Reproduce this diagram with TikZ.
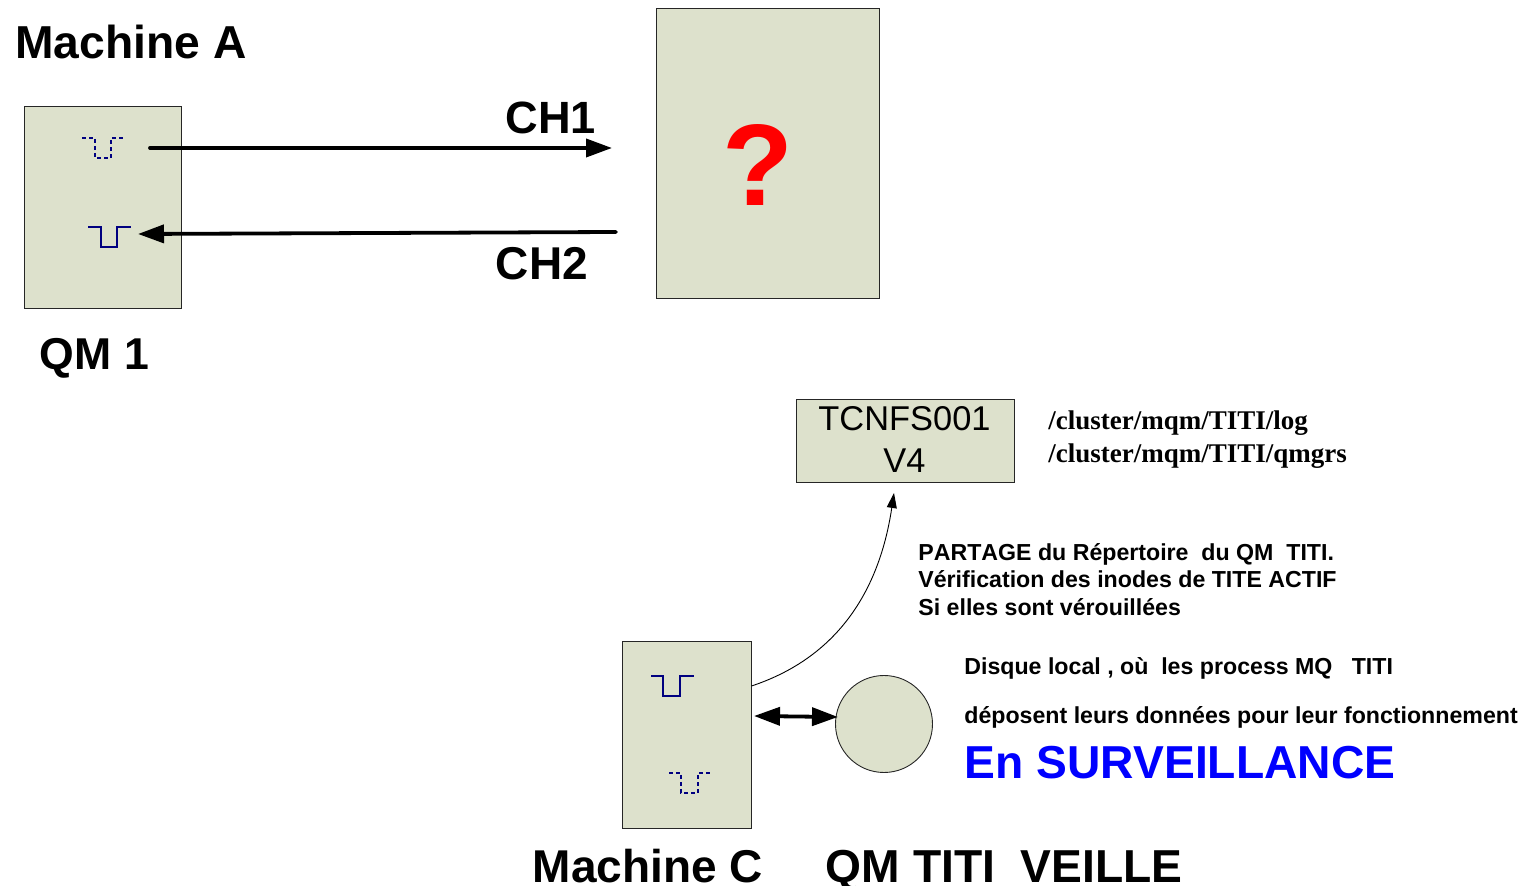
\documentclass[tikz,border=0pt]{standalone}
\usepackage{fontspec}
\setmainfont{Liberation Sans}
\newfontfamily\serifbold[BoldFont={Liberation Serif Bold}]{Liberation Serif}
\usetikzlibrary{arrows.meta}
\definecolor{boxfill}{HTML}{DDE1CC}
\definecolor{queueblue}{HTML}{000080}
\tikzset{
  x=0.5pt,y=-0.5pt,
  pane/.style={draw=black!85,line width=0.45pt,fill=boxfill},
  big/.style={font=\bfseries\fontsize{23}{26}\selectfont,inner sep=0pt,anchor=base west},
  note/.style={font=\bfseries\fontsize{11.58}{14}\selectfont,inner sep=0pt,anchor=base west},
  pathlabel/.style={font=\serifbold\bfseries\fontsize{13.5}{16}\selectfont,inner sep=0pt,anchor=base west},
  queuesolid/.style={draw=queueblue,line width=1.2pt},
  queuedash/.style={draw=queueblue,line width=1.2pt,dash pattern=on 2pt off 1.5pt},
  heavy/.style={draw=black,line width=1.9pt,line cap=round,-{Triangle[length=13pt,width=9pt]}},
  heavyboth/.style={draw=black,line width=1.9pt,{Triangle[length=13pt,width=9pt]}-{Triangle[length=13pt,width=9pt]}},
  thin curve/.style={draw=black,line width=0.45pt,-{Triangle[length=7.5pt,width=5pt]}},
}
\begin{document}
\begin{tikzpicture}
\useasboundingbox (0,0) rectangle (1523,886);
% boxes
\node[pane,minimum width=78.5pt,minimum height=101pt,inner sep=0pt,anchor=north west] (qm1) at (24,106.5) {};
\node[pane,minimum width=111.8pt,minimum height=145pt,inner sep=0pt,anchor=north west] (unknown) at (655.5,8) {};
\node[pane,minimum width=109.2pt,minimum height=41.5pt,inner sep=0pt,anchor=north west] (nfs) at (795.5,399.2) {};
\node[pane,minimum width=64.6pt,minimum height=93.5pt,inner sep=0pt,anchor=north west] (machc) at (622,641) {};
\node[pane,circle,minimum size=48.5pt,inner sep=0pt] (disk) at (884,724) {};
% queues
\draw[queuedash] (82,138) -- (95,138) -- (95,158) -- (111,158) -- (111,138) -- (125,138);
\draw[queuesolid] (88,227) -- (101,227) -- (101,247) -- (117,247) -- (117,227) -- (131,227);
\draw[queuesolid] (651,676) -- (663,676) -- (663,696) -- (680,696) -- (680,676) -- (694,676);
\draw[queuedash] (669,773) -- (681,773) -- (681,793) -- (698,793) -- (698,773) -- (711,773);
% connector ends
\coordinate (ch1a) at (150,148);
\coordinate (ch1b) at (612,148);
\coordinate (ch2a) at (616,232);
\coordinate (ch2b) at (138,234);
\coordinate (curvea) at (751.5,686);
\coordinate (curveb) at (894,493);
\coordinate (lnka) at (754,716);
\coordinate (lnkb) at (838,717);
\draw[heavy] (ch1a) -- (ch1b);
\draw[heavy] (ch2a) -- (ch2b);
\draw[heavyboth] (lnka) -- (lnkb);
\draw[thin curve] (curvea) .. controls (830,660) and (878,600) .. (curveb);
% text
\node[big,font=\bfseries\fontsize{23.1}{26}\selectfont] (tA) at (15,58.5) {Machine A};
\node[big,font=\bfseries\fontsize{22.6}{26}\selectfont] (tch1) at (505,134) {CH1};
\node[big] (tch2) at (495.5,280) {CH2};
\node[big,font=\bfseries\fontsize{22.3}{26}\selectfont] (tqm1) at (39.5,370) {QM 1};
\node[font=\bfseries\fontsize{58}{60}\selectfont,text=red,inner sep=0pt,anchor=base] (tq) at (757.5,206) {?};
\node[font=\fontsize{17.2}{20}\selectfont,inner sep=0pt,anchor=base] (tnfsa) at (904.5,431) {TCNFS001};
\node[font=\fontsize{17.2}{20}\selectfont,inner sep=0pt,anchor=base] (tnfsb) at (904.5,472.5) {V4};
\node[pathlabel] (tpa) at (1048,430) {/cluster/mqm/TITI/log};
\node[pathlabel] (tpb) at (1048,463) {/cluster/mqm/TITI/qmgrs};
\node[note] (tn1) at (918,561) {\addfontfeature{Kerning=Off}PARTAGE du Répertoire\ \ du QM\ \ TITI.};
\node[note] (tn2) at (918,588) {Vérification des inodes de TITE ACTIF};
\node[note] (tn3) at (918,615.5) {Si elles sont vérouillées};
\node[note] (tn4) at (964,675) {Disque local , où\ \ les process MQ\ \ \ TITI};
\node[note] (tn5) at (964,724) {déposent leurs données pour leur fonctionnement};
\node[big,font=\bfseries\fontsize{23.1}{26}\selectfont,text=blue] (tsv) at (964.5,779) {En SURVEILLANCE};
\node[big] (tmc) at (532.5,882.5) {Machine C};
\node[big,font=\bfseries\fontsize{23.1}{26}\selectfont] (tqt) at (825.5,882.5) {QM TITI\ \ VEILLE};
\end{tikzpicture}
\end{document}
